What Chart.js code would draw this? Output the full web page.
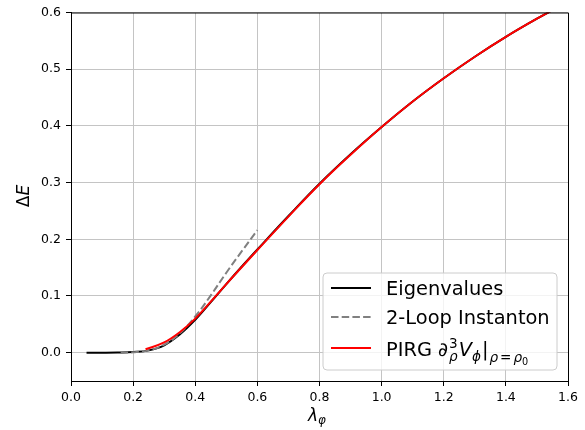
<!DOCTYPE html>
<html>
<head>
<meta charset="utf-8">
<script src="https://cdn.jsdelivr.net/npm/chart.js@4.4.0/dist/chart.umd.min.js"></script>
<style>
  html, body { margin: 0; padding: 0; background: #fff; }
  #wrap { width: 585px; height: 430px; position: relative; }
</style>
</head>
<body>
<div id="wrap"><canvas id="chartUI" width="585" height="430"></canvas></div>
<script>
// Energy gap vs coupling: eigenvalue solution, 2-loop instanton, PIRG estimate
var eigX = [0.05, 0.10, 0.15, 0.20, 0.25, 0.30, 0.35, 0.40, 0.45, 0.50, 0.55, 0.60, 0.70, 0.80, 0.90, 1.00, 1.10, 1.20, 1.30, 1.40, 1.50, 1.60];
var eigY = [0.0, 0.0, 0.0002, 0.001, 0.004, 0.013, 0.032, 0.058, 0.089, 0.121, 0.152, 0.182, 0.241, 0.298, 0.350, 0.398, 0.443, 0.484, 0.522, 0.557, 0.589, 0.619];

var instX = [0.16, 0.20, 0.25, 0.30, 0.35, 0.40, 0.45, 0.50, 0.55, 0.60];
var instY = [0.0, 0.0006, 0.004, 0.014, 0.034, 0.064, 0.101, 0.141, 0.179, 0.216];

var pirgX = [0.24, 0.30, 0.35, 0.40, 0.45, 0.50, 0.55, 0.60, 0.70, 0.80, 0.90, 1.00, 1.10, 1.20, 1.30, 1.40, 1.50, 1.60];
var pirgY = [0.006, 0.018, 0.036, 0.060, 0.090, 0.121, 0.151, 0.181, 0.240, 0.297, 0.349, 0.398, 0.443, 0.484, 0.522, 0.557, 0.589, 0.619];

var xTicks = [0.0, 0.2, 0.4, 0.6, 0.8, 1.0, 1.2, 1.4, 1.6];
var yTicks = [0.0, 0.1, 0.2, 0.3, 0.4, 0.5, 0.6];

var seriesNames = ['Eigenvalues', '2-Loop Instanton', 'PIRG'];

var FONT = '"DejaVu Sans", sans-serif';

var toXY = function(xs, ys) {
	return xs.map(function(x, i) { return {x: x, y: ys[i]}; });
};

var setTicks = function(vals) {
	return function(scale) {
		scale.ticks = vals.map(function(v) { return {value: v}; });
	};
};

// draws a run of text pieces left to right; each piece may be italic, resized and shifted
var drawPieces = function(c, x, baseline, pieces, size) {
	pieces.forEach(function(p) {
		var s = size * (p.scale || 1);
		c.font = (p.italic ? 'italic ' : '') + s + 'px ' + FONT;
		c.fillText(p.t, x, baseline + (p.dy || 0));
		var w = c.measureText(p.t).width;
		if (!p.stack) x += w + (p.gap || 0);
	});
	return x;
};

var framePlugin = {
	id: 'frame',
	afterDraw: function(chart) {
		var c = chart.ctx, a = chart.chartArea;
		c.save();

		// top and right spines
		c.strokeStyle = '#000';
		c.lineWidth = 1;
		c.beginPath();
		c.moveTo(a.left, a.top + 0.5);
		c.lineTo(a.right + 0.5, a.top + 0.5);
		c.lineTo(a.right + 0.5, a.bottom);
		c.stroke();

		// axis titles
		c.fillStyle = '#000';
		c.textAlign = 'left';
		c.textBaseline = 'alphabetic';
		c.save();
		c.translate(29, 196);
		c.rotate(-Math.PI / 2);
		c.font = '17px ' + FONT;
		var wd = c.measureText('\u0394').width;
		c.font = 'italic 17px ' + FONT;
		var we = c.measureText('E').width;
		drawPieces(c, -(wd + we) / 2, 0, [
			{t: '\u0394'},
			{t: 'E', italic: true}
		], 17);
		c.restore();

		drawPieces(c, 308, 421, [
			{t: '\u03bb', italic: true},
			{t: '\u03c6', italic: true, scale: 0.7, dy: 3}
		], 17);

		// legend
		var lx = 323, ly = 273, lw = 234, lh = 97, r = 4;
		c.beginPath();
		c.moveTo(lx + r, ly);
		c.arcTo(lx + lw, ly, lx + lw, ly + lh, r);
		c.arcTo(lx + lw, ly + lh, lx, ly + lh, r);
		c.arcTo(lx, ly + lh, lx, ly, r);
		c.arcTo(lx, ly, lx + lw, ly, r);
		c.closePath();
		c.fillStyle = 'rgba(255,255,255,0.8)';
		c.fill();
		c.strokeStyle = '#cccccc';
		c.lineWidth = 1;
		c.stroke();

		var rows = [288, 317, 348];
		var ds = chart.data.datasets;
		rows.forEach(function(ry, i) {
			c.beginPath();
			c.strokeStyle = ds[i].borderColor;
			c.lineWidth = ds[i].borderWidth;
			c.setLineDash(ds[i].borderDash || []);
			c.moveTo(331, ry);
			c.lineTo(371, ry);
			c.stroke();
			c.setLineDash([]);
		});

		c.fillStyle = '#000';
		c.font = '19.4px ' + FONT;
		c.fillText(seriesNames[0], 386, 295);
		c.fillText(seriesNames[1], 386, 324);

		var size = 19.4;
		var x = drawPieces(c, 386, 356, [{t: seriesNames[2] + ' '}], size);
		x = drawPieces(c, x, 356, [
			{t: '\u2202', italic: true, gap: 1},
			{t: '3', scale: 0.7, dy: -8, stack: true},
			{t: '\u03c1', italic: true, scale: 0.7, dy: 5, gap: 1},
			{t: 'V', italic: true},
			{t: '\u03d5', italic: true, scale: 0.7, dy: 5, gap: 1},
			{t: '|', gap: 1},
			{t: '\u03c1', italic: true, scale: 0.7, dy: 6, gap: 2},
			{t: '=', scale: 0.7, dy: 6, gap: 2},
			{t: '\u03c1', italic: true, scale: 0.7, dy: 6},
			{t: '0', scale: 0.5, dy: 9}
		], size);

		c.restore();
	}
};

var ctx = document.getElementById('chartUI');

var chart = new Chart(ctx, {
	type: 'scatter',
	data: {
		datasets: [
			{
				label: seriesNames[0],
				data: toXY(eigX, eigY),
				borderColor: '#000000',
				borderWidth: 2,
				order: 3
			},
			{
				label: seriesNames[1],
				data: toXY(instX, instY),
				borderColor: '#808080',
				borderWidth: 2,
				borderDash: [7.5, 3.2],
				order: 2
			},
			{
				label: seriesNames[2],
				data: toXY(pirgX, pirgY),
				borderColor: '#ff0000',
				borderWidth: 2,
				order: 1
			}
		]
	},
	options: {
		responsive: false,
		animation: false,
		showLine: true,
		elements: {
			point: {radius: 0, hoverRadius: 0},
			line: {tension: 0.4, fill: false, capBezierPoints: false}
		},
		layout: {padding: {top: 12, right: 17, left: 0, bottom: 0}},
		plugins: {
			legend: {display: false},
			tooltip: {enabled: false}
		},
		scales: {
			x: {
				type: 'linear',
				min: 0,
				max: 1.6,
				afterBuildTicks: setTicks(xTicks),
				afterFit: function(s) { s.height = 49; },
				grid: {color: '#c4c4c4', lineWidth: 1, tickLength: 5, tickColor: '#000'},
				border: {color: '#000', width: 1},
				ticks: {
					color: '#000',
					padding: 4,
					maxRotation: 0,
					font: {family: FONT, size: 12.5},
					callback: function(v) { return v.toFixed(1); }
				}
			},
			y: {
				type: 'linear',
				min: -0.05,
				max: 0.6,
				afterBuildTicks: setTicks(yTicks),
				afterFit: function(s) { s.width = 71; },
				grid: {color: '#c4c4c4', lineWidth: 1, tickLength: 5, tickColor: '#000'},
				border: {color: '#000', width: 1},
				ticks: {
					color: '#000',
					padding: 5,
					font: {family: FONT, size: 12.5},
					callback: function(v) { return v.toFixed(1); }
				}
			}
		}
	},
	plugins: [framePlugin]
});
</script>
</body>
</html>
